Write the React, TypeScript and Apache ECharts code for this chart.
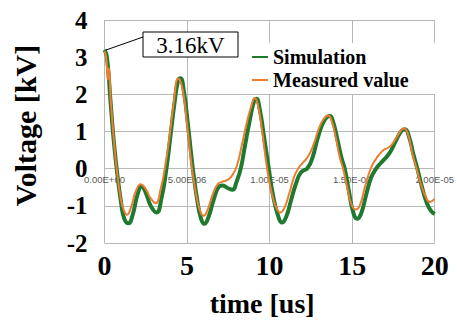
import React, { useEffect, useRef } from "react";
import * as echarts from "echarts";

const simTime = [0, 0.15, 0.35, 0.55, 0.75, 1.0, 1.2, 1.45, 1.7, 2.0, 2.25, 2.5, 2.8, 3.15, 3.45, 3.75, 4.0, 4.25, 4.45, 4.6, 4.8, 5.05, 5.35, 5.6, 5.85, 6.05, 6.3, 6.6, 6.9, 7.15, 7.45, 7.75, 8.0, 8.25, 8.5, 8.8, 9.05, 9.2, 9.4, 9.65, 9.95, 10.2, 10.5, 10.75, 11.0, 11.3, 11.6, 11.9, 12.3, 12.6, 12.9, 13.2, 13.45, 13.65, 13.85, 14.1, 14.35, 14.55, 14.8, 15.05, 15.3, 15.55, 15.85, 16.15, 16.45, 16.75, 17.05, 17.35, 17.7, 18.0, 18.2, 18.45, 18.7, 18.95, 19.2, 19.5, 19.75, 20.0];
const simVolt = [3.2, 3.0, 1.9, 0.8, -0.05, -0.9, -1.35, -1.47, -1.25, -0.7, -0.48, -0.65, -1.0, -1.18, -0.8, 0.0, 0.9, 1.8, 2.35, 2.43, 2.1, 1.2, 0.0, -0.8, -1.35, -1.48, -1.3, -0.85, -0.5, -0.45, -0.52, -0.57, -0.35, 0.0, 0.6, 1.3, 1.8, 1.88, 1.6, 0.9, 0.0, -0.7, -1.25, -1.45, -1.3, -0.85, -0.4, -0.1, 0.02, 0.3, 0.8, 1.2, 1.38, 1.42, 1.25, 0.8, 0.3, 0.0, -0.6, -1.15, -1.35, -1.2, -0.7, -0.24, 0.0, 0.16, 0.3, 0.48, 0.8, 1.02, 1.06, 0.85, 0.4, 0.0, -0.45, -0.9, -1.12, -1.22];

const measTime = [0, 0.1, 0.2, 0.25, 0.4, 0.6, 0.75, 1.0, 1.2, 1.35, 1.6, 1.9, 2.2, 2.5, 2.8, 3.1, 3.4, 3.65, 3.95, 4.2, 4.45, 4.55, 4.75, 5.0, 5.3, 5.55, 5.8, 6.0, 6.25, 6.55, 6.85, 7.15, 7.45, 7.7, 8.0, 8.3, 8.6, 8.9, 9.1, 9.3, 9.55, 9.85, 10.1, 10.4, 10.65, 10.9, 11.2, 11.5, 11.8, 12.1, 12.4, 12.7, 13.0, 13.3, 13.55, 13.75, 14.0, 14.25, 14.45, 14.7, 14.95, 15.2, 15.45, 15.8, 16.15, 16.5, 16.9, 17.3, 17.7, 18.0, 18.15, 18.4, 18.65, 18.9, 19.15, 19.45, 19.7, 19.9, 20.0];
const measVolt = [3.16, 3.0, 2.4, 2.7, 1.7, 0.6, -0.05, -0.85, -1.15, -1.24, -1.05, -0.6, -0.42, -0.55, -0.8, -0.93, -0.55, 0.0, 0.9, 1.8, 2.42, 2.4, 2.1, 1.2, 0.0, -0.7, -1.15, -1.27, -1.1, -0.7, -0.42, -0.35, -0.3, -0.2, 0.05, 0.6, 1.2, 1.7, 1.9, 1.7, 1.0, 0.0, -0.6, -1.05, -1.18, -1.05, -0.65, -0.2, 0.05, 0.2, 0.38, 0.7, 1.1, 1.35, 1.43, 1.3, 0.85, 0.3, 0.0, -0.5, -0.95, -1.1, -1.0, -0.45, 0.03, 0.3, 0.5, 0.6, 0.85, 1.05, 1.08, 0.9, 0.4, 0.0, -0.4, -0.75, -0.9, -0.85, -0.82];

const xTickLabels = ["0", "5", "10", "15", "20"];
const xInnerLabels = ["0.00E+00", "5.00E-06", "1.00E-05", "1.50E-05", "2.00E-05"];
const seriesNames = ["Simulation", "Measured value"];
const peakLabel = "3.16kV";

const SERIF = "'Times New Roman', 'Liberation Serif', serif";
const GREEN = "#1f7a2f";
const ORANGE = "#ed7d31";
const GRIDC = "#b8b8b8";
const NO_TICK = { show: true, length: 0, lineStyle: { color: "rgba(0,0,0,0)" } };

export default function App() {
  const ref = useRef<HTMLDivElement>(null);
  useEffect(() => {
    if (!ref.current) return;
    const chart = echarts.init(ref.current, undefined, { renderer: "svg" });
    const simData = simTime.map((t, i) => [t, simVolt[i]]);
    const measData = measTime.map((t, i) => [t, measVolt[i]]);
    const idx = (v: number) => Math.round(v / 5);
    chart.setOption({
      animation: false,
      grid: { left: 104.5, right: 19.5, top: 20, bottom: 73 },
      xAxis: [
        {
          type: "value",
          min: 0,
          max: 20,
          interval: 5,
          axisLine: { show: false },
          axisTick: NO_TICK,
          splitLine: { show: true, lineStyle: { color: GRIDC, width: 1 } },
          axisLabel: {
            formatter: (v: number) => xTickLabels[idx(v)] ?? "",
            fontFamily: SERIF,
            fontWeight: "bold",
            fontSize: 28,
            color: "#000",
            margin: 8,
          },
          name: "time [us]",
          nameLocation: "middle",
          nameGap: 46,
          nameTextStyle: {
            fontFamily: SERIF,
            fontWeight: "bold",
            fontSize: 28,
            color: "#000",
            padding: [0, 15, 0, 0],
          },
        },
        {
          type: "value",
          min: 0,
          max: 20,
          interval: 5,
          position: "bottom",
          offset: -76.5,
          axisLine: { show: false },
          axisTick: NO_TICK,
          splitLine: { show: false },
          axisLabel: {
            formatter: (v: number) => xInnerLabels[idx(v)] ?? "",
            fontFamily: "Arial, 'Liberation Sans', sans-serif",
            fontSize: 9.5,
            color: "#595959",
            margin: 8,
          },
        },
      ],
      yAxis: {
        type: "value",
        min: -2,
        max: 4,
        interval: 1,
        axisLine: { show: false },
        axisTick: NO_TICK,
        splitLine: {
          show: true,
          lineStyle: { color: [GRIDC, GRIDC, GRIDC, GRIDC, GRIDC, "#ffffff", GRIDC], width: 1 },
        },
        axisLabel: {
          fontFamily: SERIF,
          fontWeight: "bold",
          fontSize: 25,
          color: "#000",
          margin: 17,
        },
        name: "Voltage [kV]",
        nameLocation: "middle",
        nameGap: 64,
        nameTextStyle: {
          fontFamily: SERIF,
          fontWeight: "bold",
          fontSize: 30,
          color: "#000",
          padding: [0, 0, 0, 12],
        },
      },
      legend: {
        data: seriesNames,
        orient: "vertical",
        left: 247,
        top: 43,
        itemWidth: 16,
        itemHeight: 2,
        itemGap: 3,
        icon: "rect",
        backgroundColor: "#ffffff",
        padding: [4, 27, 4, 5],
        textStyle: {
          fontFamily: SERIF,
          fontWeight: "bold",
          fontSize: 20,
          color: "#000",
        },
      },
      series: [
        {
          name: seriesNames[0],
          type: "line",
          data: simData,
          symbol: "none",
          smooth: 0.5,
          lineStyle: { color: GREEN, width: 4 },
          itemStyle: { color: GREEN },
          z: 2,
        },
        {
          name: seriesNames[1],
          type: "line",
          data: measData,
          symbol: "none",
          smooth: 0.5,
          lineStyle: { color: ORANGE, width: 2 },
          itemStyle: { color: ORANGE },
          z: 3,
        },
      ],
      graphic: [
        {
          type: "line",
          shape: { x1: 106, y1: 50, x2: 143, y2: 37 },
          style: { stroke: "#000", lineWidth: 1 },
          z: 10,
        },
        {
          type: "rect",
          shape: { x: 143, y: 32, width: 95, height: 25 },
          style: { fill: "#fff", stroke: "#000", lineWidth: 1 },
          z: 10,
        },
        {
          type: "text",
          x: 190.5,
          y: 45,
          style: {
            text: peakLabel,
            fontFamily: SERIF,
            fontSize: 23,
            fill: "#000",
            align: "center",
            verticalAlign: "middle",
          },
          z: 11,
        },
      ],
    });
    return () => chart.dispose();
  }, []);
  return (
    <div
      ref={ref}
      style={{ position: "fixed", left: 0, top: 0, width: 457, height: 322, background: "#fff" }}
    />
  );
}
